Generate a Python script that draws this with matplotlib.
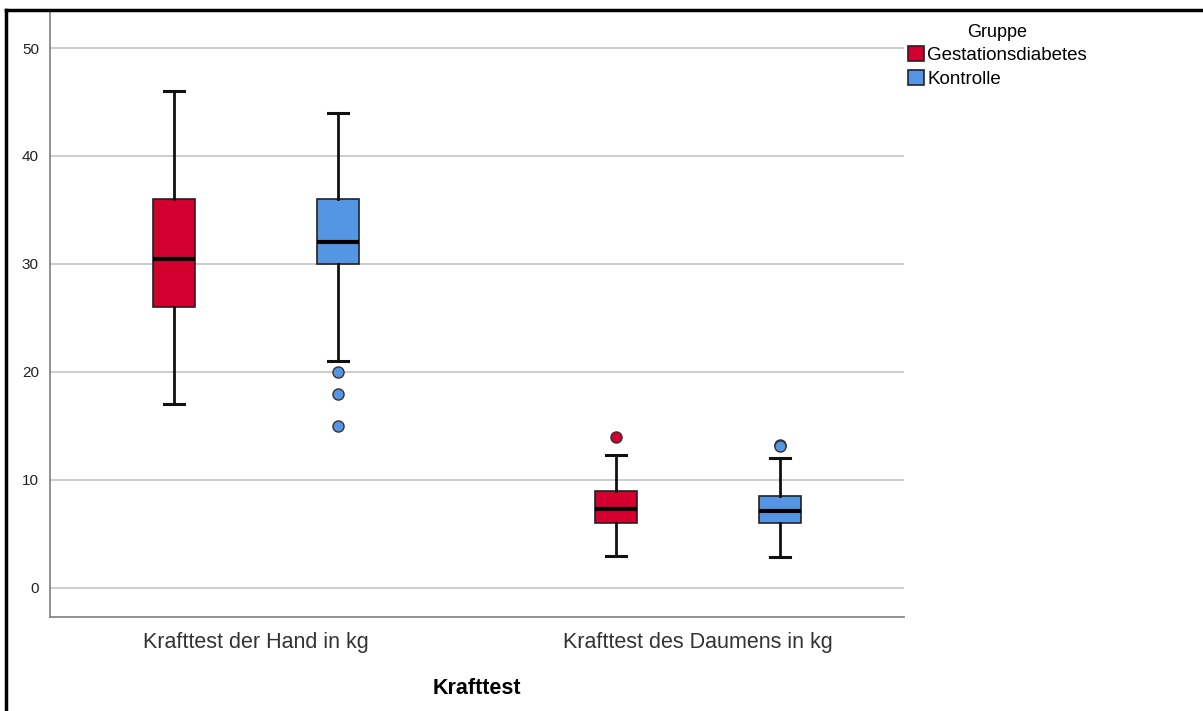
import numpy as np
import matplotlib.pyplot as plt
from matplotlib.patches import Patch
from matplotlib.lines import Line2D

plt.rcParams['font.family'] = ['Liberation Sans', 'DejaVu Sans']

# Categories and groups
categories = ['Krafttest der Hand in kg', 'Krafttest des Daumens in kg']
groups = ['Gestationsdiabetes', 'Kontrolle']
colors = ['#d3002f', '#5596e4']

# Box statistics: [whislo, q1, med, q3, whishi]
hand_gd = [17, 26, 30.5, 36, 46]
hand_ko = [21, 30, 32, 36, 44]
daumen_gd = [3, 6, 7.3, 9, 12.3]
daumen_ko = [2.9, 6, 7.1, 8.5, 12]

# Outliers
hand_gd_out = []
hand_ko_out = [20, 18, 15]
daumen_gd_out = [14]
daumen_ko_out = [13.2, 13.1]

data = {
    (0, 0): (hand_gd, hand_gd_out),
    (0, 1): (hand_ko, hand_ko_out),
    (1, 0): (daumen_gd, daumen_gd_out),
    (1, 1): (daumen_ko, daumen_ko_out),
}

fig = plt.figure(figsize=(12.03, 7.11), dpi=100)
ax = fig.add_axes([0.0416, 0.1322, 0.7099, 0.8495])

offset = 0.185
box_w = 0.095
for (ci, gi), (s, out) in data.items():
    stats = [dict(whislo=s[0], q1=s[1], med=s[2], q3=s[3], whishi=s[4], fliers=out)]
    pos = ci + (offset if gi == 1 else -offset)
    ax.bxp(stats, positions=[pos], widths=box_w, capwidths=0.045,
           patch_artist=True, manage_ticks=False,
           boxprops=dict(facecolor=colors[gi], edgecolor='#222222', linewidth=1.2),
           medianprops=dict(color='black', linewidth=3),
           whiskerprops=dict(color='#111111', linewidth=2),
           capprops=dict(color='#111111', linewidth=2.2),
           flierprops=dict(marker='o', markerfacecolor=colors[gi],
                           markeredgecolor='#333333', markersize=8,
                           markeredgewidth=1))

ax.set_xlim(-0.465, 1.465)
ax.set_ylim(-2.69, 53.24)
ax.set_yticks([0, 10, 20, 30, 40, 50])
ax.set_xticks([0, 1])
ax.set_xticklabels(categories, fontsize=15.5, color='#333333')
ax.tick_params(axis='y', length=0, labelsize=11, pad=8, labelcolor='#222222')
ax.tick_params(axis='x', length=0, pad=11)
ax.yaxis.grid(True, color='#c8c8c8', linewidth=1.3)
ax.set_axisbelow(True)
for side in ['top', 'right']:
    ax.spines[side].set_visible(False)
ax.spines['left'].set_color('#888888')
ax.spines['bottom'].set_color('#888888')
ax.spines['left'].set_linewidth(1.3)
ax.spines['bottom'].set_linewidth(1.3)
ax.set_xlabel('Krafttest', fontsize=15.5, fontweight='bold', labelpad=18)

handles = [Patch(facecolor=c, edgecolor='#222222', linewidth=1.2) for c in colors]
leg = fig.legend(handles, groups, title='Gruppe', loc='upper left',
                 bbox_to_anchor=(0.742, 0.988), frameon=False, fontsize=13.5,
                 title_fontsize=13, handlelength=0.85, handleheight=0.85,
                 handletextpad=0.2, labelspacing=0.3, borderpad=0.3)

# screenshot border (top and left)
fig.add_artist(Line2D([0.005, 0.005], [0, 0.986], color='black', linewidth=2.5,
                      transform=fig.transFigure))
fig.add_artist(Line2D([0.005, 1.0], [0.986, 0.986], color='black', linewidth=2.5,
                      transform=fig.transFigure))

fig.savefig('out.png', dpi=100)
